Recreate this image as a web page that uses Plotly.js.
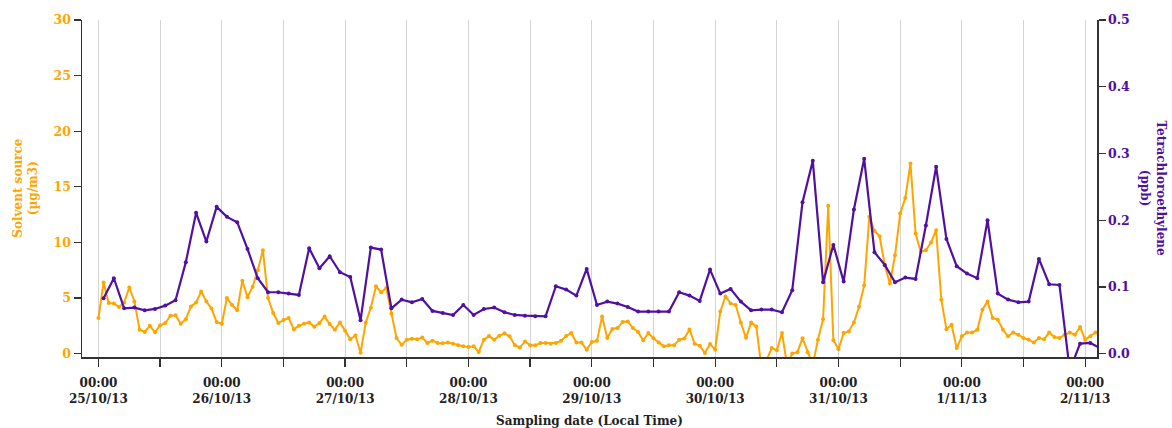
<!DOCTYPE html>
<html>
<head>
<meta charset="utf-8">
<script src="https://cdn.plot.ly/plotly-3.0.1.min.js"></script>
<style>html,body{margin:0;padding:0;background:#fff;}</style>
</head>
<body>
<div id="chart" style="width:1172px;height:428px;"></div>
<script>
// Hourly solvent source (µg/m3), starting 25/10/13 00:00
const solventSource = [
  3.2, 6.4, 4.55, 4.5, 4.2, 4.6, 5.95, 4.7, 2.16, 1.95, 2.5, 1.92, 2.55, 2.75, 3.4, 3.45, 2.7, 3.1, 4.25, 4.6, 5.6, 4.7, 4.05, 2.84,
  2.7, 5.0, 4.37, 3.9, 6.56, 5.08, 6.02, 7.5, 9.3, 5.0, 3.65, 2.75, 3.02, 3.2, 2.2, 2.5, 2.7, 2.8, 2.43, 2.75, 3.35, 2.66, 2.16, 2.8,
  2.05, 1.3, 1.63, 0.08, 2.77, 4.13, 6.05, 5.52, 5.9, 3.6, 1.4, 0.8, 1.26, 1.35, 1.3, 1.45, 0.96, 1.17, 0.96, 0.93, 1.0, 0.9, 0.75, 0.66,
  0.6, 0.66, 0.15, 1.26, 1.58, 1.26, 1.6, 1.83, 1.56, 0.78, 0.55, 1.1, 0.75, 0.75, 0.96, 0.96, 0.9, 0.96, 1.15, 1.58, 1.86, 1.0, 1.0, 0.36,
  1.05, 1.15, 3.35, 1.4, 2.22, 2.3, 2.85, 2.9, 2.3, 1.95, 1.2, 1.86, 1.38, 1.0, 0.66, 0.76, 0.75, 1.26, 1.36, 2.18, 0.9, 0.72, 0.06, 0.87,
  0.36, 3.78, 5.15, 4.52, 4.38, 2.78, 1.42, 2.8, 2.45, -1.2, -0.6, 0.5, 0.3, 1.86, -1.0, 0.02, 0.13, 1.38, 0.13, -1.0, 1.26, 3.1, 13.3, 1.2,
  0.4, 1.86, 2.0, 2.8, 4.22, 6.12, 12.3, 11.05, 10.55, 7.95, 6.3, 8.85, 12.6, 14.0, 17.1, 10.8, 9.15, 9.3, 10.0, 11.1, 4.85, 2.2, 2.6, 0.5,
  1.56, 1.9, 1.9, 2.15, 3.95, 4.7, 3.2, 3.05, 2.15, 1.56, 1.9, 1.7, 1.4, 1.26, 1.0, 1.4, 1.3, 1.9, 1.5, 1.4, 1.7, 1.9, 1.7, 2.4,
  1.26, 1.56, 1.9
];

// Two-hourly tetrachloroethylene (ppb), starting 25/10/13 01:00
const tetrachloroethylene = [
  0.083, 0.113, 0.068, 0.069, 0.065, 0.067, 0.072, 0.08, 0.137, 0.211, 0.168, 0.22,
  0.205, 0.197, 0.157, 0.113, 0.092, 0.092, 0.09, 0.088, 0.158, 0.128, 0.146, 0.122,
  0.115, 0.05, 0.159, 0.156, 0.068, 0.081, 0.077, 0.082, 0.064, 0.061, 0.058, 0.073,
  0.058, 0.067, 0.069, 0.062, 0.058, 0.057, 0.056, 0.056, 0.101, 0.096, 0.087, 0.127,
  0.073, 0.078, 0.075, 0.07, 0.063, 0.063, 0.063, 0.063, 0.092, 0.087, 0.079, 0.126,
  0.09, 0.097, 0.078, 0.065, 0.066, 0.066, 0.062, 0.095, 0.227, 0.289, 0.107, 0.163,
  0.108, 0.216, 0.292, 0.152, 0.133, 0.107, 0.114, 0.112, 0.192, 0.28, 0.172, 0.131,
  0.12, 0.113, 0.2, 0.09, 0.081, 0.077, 0.078, 0.142, 0.104, 0.103, -0.025, 0.015,
  0.016, 0.008
];

const dayLabels = ['25/10/13', '26/10/13', '27/10/13', '28/10/13', '29/10/13', '30/10/13', '31/10/13', '1/11/13', '2/11/13'];
const dayDates = ['2013-10-25', '2013-10-26', '2013-10-27', '2013-10-28', '2013-10-29', '2013-10-30', '2013-10-31', '2013-11-01', '2013-11-02'];

const startMs = Date.UTC(2013, 9, 25, 0, 0);
function fmt(ms) {
  const d = new Date(ms);
  const p = n => String(n).padStart(2, '0');
  return d.getUTCFullYear() + '-' + p(d.getUTCMonth() + 1) + '-' + p(d.getUTCDate()) + ' ' + p(d.getUTCHours()) + ':' + p(d.getUTCMinutes());
}
const hour = 3600000;
const solventTimes = solventSource.map((_, i) => fmt(startMs + i * hour));
const tetraTimes = tetrachloroethylene.map((_, i) => fmt(startMs + (1 + 2 * i) * hour));

const tickvals = [], ticktext = [];
dayDates.forEach((d, i) => {
  tickvals.push(d + ' 00:00'); ticktext.push('00:00<br>' + dayLabels[i]);
  if (i < dayDates.length - 1) { tickvals.push(d + ' 12:00'); ticktext.push(''); }
});

const ORANGE = '#FFA500';
const PURPLE = '#5010A0';
const FONT = 'DejaVu Serif, serif';

const traces = [
  {
    x: solventTimes, y: solventSource, type: 'scatter', mode: 'lines+markers',
    line: {color: ORANGE, width: 2}, marker: {color: ORANGE, size: 4},
    yaxis: 'y', name: 'Solvent source'
  },
  {
    x: tetraTimes, y: tetrachloroethylene, type: 'scatter', mode: 'lines+markers',
    line: {color: PURPLE, width: 2.2}, marker: {color: PURPLE, size: 4},
    yaxis: 'y2', name: 'Tetrachloroethylene'
  }
];

const layout = {
  width: 1172, height: 428,
  margin: {l: 82, r: 75, t: 20, b: 71},
  paper_bgcolor: '#ffffff', plot_bgcolor: '#ffffff',
  showlegend: false,
  font: {family: FONT, size: 12, color: '#222'},
  xaxis: {
    type: 'date',
    range: ['2013-10-24 20:48', '2013-11-02 02:18'],
    tickmode: 'array', tickvals: tickvals, ticktext: ticktext,
    showgrid: true, gridcolor: '#d4d4d4', gridwidth: 1,
    ticks: 'outside', ticklen: 8, tickcolor: '#333', tickwidth: 1.3,
    ticklabelstandoff: 6,
    showline: true, linecolor: '#333', linewidth: 1.5,
    zeroline: false,
    tickfont: {family: FONT, size: 12, color: '#222', weight: 'bold'}
  },
  yaxis: {
    range: [-0.3, 30], tickvals: [0, 5, 10, 15, 20, 25, 30],
    showgrid: false, zeroline: false,
    ticks: 'outside', ticklen: 7, tickcolor: '#333', tickwidth: 1.3,
    showline: true, linecolor: '#333', linewidth: 1.5,
    tickfont: {family: FONT, size: 12.5, color: ORANGE, weight: 'bold'}
  },
  yaxis2: {
    overlaying: 'y', side: 'right',
    range: [-0.005, 0.5], tickvals: [0, 0.1, 0.2, 0.3, 0.4, 0.5], tickformat: '.1f',
    showgrid: false, zeroline: false,
    ticks: 'outside', ticklen: 7, tickcolor: '#333', tickwidth: 1.3,
    showline: true, linecolor: '#333', linewidth: 1.5,
    tickfont: {family: FONT, size: 12.5, color: PURPLE, weight: 'bold'}
  },
  annotations: [
    {
      text: 'Solvent source<br>(µg/m3)', xref: 'paper', yref: 'paper',
      x: -0.056, y: 0.5, xanchor: 'center', yanchor: 'middle', textangle: -90,
      showarrow: false, font: {family: FONT, size: 12, color: ORANGE, weight: 'bold'}
    },
    {
      text: 'Tetrachloroethylene<br>(ppb)', xref: 'paper', yref: 'paper',
      x: 1.0552, y: 0.5, xanchor: 'center', yanchor: 'middle', textangle: 90,
      showarrow: false, font: {family: FONT, size: 12, color: PURPLE, weight: 'bold'}
    },
    {
      text: 'Sampling date (Local Time)', xref: 'paper', yref: 'paper',
      x: 0.5, y: -0.19, xanchor: 'center', yanchor: 'middle',
      showarrow: false, font: {family: FONT, size: 12, color: '#222', weight: 'bold'}
    }
  ]
};

Plotly.newPlot('chart', traces, layout, {displayModeBar: false, staticPlot: true});
</script>
</body>
</html>
